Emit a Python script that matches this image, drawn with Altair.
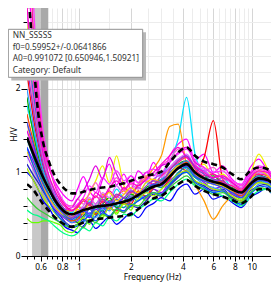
import altair as alt
import pandas as pd

# ---------------- data ----------------
FREQ = [0.50, 0.54, 0.58, 0.62, 0.67, 0.72, 0.78, 0.84, 0.91, 0.98,
        1.06, 1.15, 1.25, 1.37, 1.5, 1.65, 1.82, 2.0, 2.2, 2.45,
        2.7, 3.0, 3.35, 3.75, 4.2, 4.7, 5.3, 6.0, 6.8, 7.7,
        8.7, 9.8, 11.0, 12.4, 13.0]

MEAN = [1.42, 1.24, 1.08, 0.94, 0.80, 0.68, 0.58, 0.52, 0.50, 0.52,
        0.55, 0.57, 0.59, 0.60, 0.61, 0.63, 0.65, 0.68, 0.73, 0.79,
        0.83, 0.86, 0.95, 1.05, 1.10, 1.00, 0.93, 0.89, 0.86, 0.80,
        0.76, 0.86, 0.93, 0.91, 0.88]
UPPER = [3.40, 2.45, 1.72, 1.36, 1.13, 0.97, 0.86, 0.79, 0.75, 0.75,
         0.77, 0.79, 0.81, 0.82, 0.83, 0.85, 0.87, 0.90, 0.93, 0.96,
         0.98, 1.01, 1.12, 1.24, 1.30, 1.20, 1.13, 1.10, 1.06, 0.98,
         0.92, 1.02, 1.06, 1.04, 1.02]
LOWER = [0.86, 0.80, 0.71, 0.62, 0.54, 0.47, 0.41, 0.37, 0.35, 0.37,
         0.40, 0.42, 0.44, 0.45, 0.46, 0.47, 0.48, 0.50, 0.56, 0.63,
         0.69, 0.72, 0.79, 0.86, 0.91, 0.84, 0.78, 0.74, 0.71, 0.67,
         0.63, 0.70, 0.80, 0.80, 0.76]

W01 = [3.60, 2.50, 1.75, 1.30, 1.05, 0.90, 0.78, 0.70, 0.66, 0.80, 0.95, 0.78, 0.70, 0.92, 1.10, 0.85, 0.98, 0.80, 1.02, 0.94, 1.12, 0.96, 1.20, 1.34, 1.40, 1.15, 1.22, 1.00, 1.08, 0.92, 0.85, 1.06, 1.16, 1.02, 0.98]
W02 = [1.00, 0.92, 0.80, 0.66, 0.58, 0.46, 0.40, 0.34, 0.31, 0.28, 0.36, 0.42, 0.33, 0.40, 0.47, 0.38, 0.45, 0.52, 0.46, 0.58, 0.63, 0.70, 0.66, 0.80, 0.86, 0.74, 0.80, 0.68, 0.72, 0.64, 0.58, 0.70, 0.76, 0.82, 0.75]
W03 = [0.45, 0.40, 0.40, 0.42, 0.42, 0.40, 0.37, 0.30, 0.28, 0.34, 0.45, 0.38, 0.52, 0.46, 0.60, 0.50, 0.64, 0.55, 0.72, 0.66, 0.80, 0.74, 0.86, 0.95, 1.00, 0.90, 0.84, 0.92, 0.78, 0.74, 0.68, 0.82, 0.90, 0.84, 0.80]
W04 = [1.80, 1.52, 1.25, 1.05, 0.86, 0.70, 0.61, 0.55, 0.52, 0.60, 0.52, 0.66, 0.58, 0.72, 0.64, 0.80, 0.70, 0.78, 0.72, 0.88, 0.84, 0.98, 1.12, 1.40, 1.90, 1.22, 0.98, 0.88, 0.94, 0.80, 0.70, 0.85, 0.92, 0.86, 0.84]
W05 = [2.20, 1.70, 1.35, 1.08, 0.88, 0.74, 0.62, 0.54, 0.48, 0.46, 0.55, 0.62, 0.50, 0.66, 0.58, 0.54, 0.70, 0.62, 0.78, 0.70, 0.86, 0.82, 0.92, 1.06, 1.02, 1.00, 1.18, 1.62, 0.92, 0.80, 0.76, 0.92, 0.98, 0.90, 0.88]
W06 = [2.80, 2.00, 1.50, 1.15, 0.90, 0.74, 0.60, 0.52, 0.48, 0.58, 0.66, 0.74, 0.90, 1.08, 0.88, 1.20, 0.84, 0.74, 0.86, 0.96, 0.90, 0.88, 1.04, 1.14, 1.18, 1.02, 1.10, 0.94, 0.98, 0.86, 0.80, 0.98, 1.22, 1.04, 0.98]
W07 = [1.60, 1.30, 1.10, 0.95, 0.80, 0.70, 0.60, 0.55, 0.54, 0.60, 0.56, 0.68, 0.62, 0.74, 0.66, 0.72, 0.78, 0.70, 0.86, 0.94, 1.05, 1.20, 1.55, 1.58, 1.08, 0.86, 0.66, 0.44, 0.60, 0.70, 0.66, 0.80, 0.88, 0.86, 0.84]
W08 = [1.30, 1.15, 1.00, 0.86, 0.72, 0.60, 0.50, 0.44, 0.40, 0.42, 0.50, 0.46, 0.56, 0.50, 0.62, 0.58, 0.54, 0.66, 0.72, 0.68, 0.80, 0.76, 0.90, 0.98, 1.08, 0.96, 0.88, 0.80, 0.84, 0.74, 0.70, 0.82, 0.92, 0.88, 0.84]
W09 = [2.50, 1.90, 1.45, 1.12, 0.92, 0.78, 0.68, 0.62, 0.60, 0.68, 0.62, 0.76, 0.88, 0.72, 0.80, 0.94, 0.78, 0.86, 0.80, 0.96, 0.90, 1.08, 1.16, 1.28, 1.30, 1.10, 1.02, 1.06, 0.92, 0.90, 0.84, 0.96, 1.04, 1.00, 0.96]
W10 = [1.10, 0.98, 0.88, 0.78, 0.66, 0.56, 0.48, 0.40, 0.36, 0.38, 0.44, 0.40, 0.48, 0.54, 0.46, 0.56, 0.52, 0.60, 0.58, 0.66, 0.74, 0.72, 0.84, 0.94, 1.02, 0.90, 0.84, 0.78, 0.80, 0.70, 0.66, 0.78, 0.84, 0.86, 0.80]
W11 = [1.90, 1.50, 1.20, 1.00, 0.84, 0.70, 0.58, 0.50, 0.44, 0.40, 0.48, 0.56, 0.50, 0.62, 0.70, 0.58, 0.66, 0.74, 0.70, 0.82, 0.86, 0.92, 0.98, 1.10, 1.14, 1.00, 0.94, 0.96, 0.86, 0.82, 0.76, 0.90, 0.96, 0.94, 0.90]
W12 = [1.50, 1.30, 1.12, 0.96, 0.82, 0.70, 0.60, 0.56, 0.58, 0.68, 0.78, 0.92, 1.08, 0.92, 1.18, 0.98, 0.86, 0.96, 0.88, 1.00, 0.96, 1.08, 1.12, 1.24, 1.30, 1.12, 1.06, 0.98, 0.94, 0.88, 0.82, 0.98, 1.06, 1.02, 0.98]
W13 = [2.00, 1.60, 1.28, 1.02, 0.82, 0.66, 0.54, 0.46, 0.40, 0.44, 0.40, 0.52, 0.46, 0.58, 0.54, 0.64, 0.58, 0.70, 0.66, 0.78, 0.82, 0.92, 0.98, 1.10, 1.04, 0.94, 0.86, 0.82, 0.78, 0.68, 0.62, 0.74, 0.86, 0.88, 0.82]
W14 = [1.20, 1.05, 0.92, 0.80, 0.68, 0.58, 0.50, 0.46, 0.44, 0.52, 0.58, 0.50, 0.62, 0.68, 0.60, 0.72, 0.64, 0.76, 0.82, 0.78, 0.92, 0.98, 1.06, 1.16, 1.20, 1.06, 1.02, 0.92, 0.88, 0.84, 0.78, 0.92, 1.00, 0.96, 0.92]
W15 = [0.55, 0.50, 0.48, 0.45, 0.42, 0.36, 0.30, 0.26, 0.24, 0.27, 0.34, 0.30, 0.40, 0.36, 0.46, 0.42, 0.50, 0.48, 0.56, 0.62, 0.68, 0.66, 0.76, 0.86, 0.92, 0.84, 0.80, 0.76, 0.72, 0.66, 0.60, 0.70, 0.78, 0.80, 0.76]
W16 = [4.20, 2.80, 1.95, 1.40, 1.08, 0.86, 0.70, 0.60, 0.55, 0.58, 0.66, 0.60, 0.72, 0.64, 0.78, 0.70, 0.82, 0.76, 0.84, 0.90, 0.86, 0.96, 1.04, 1.12, 1.18, 1.04, 0.96, 0.98, 0.88, 0.84, 0.78, 0.92, 0.98, 0.96, 0.90]
W17 = [1.40, 1.20, 1.02, 0.88, 0.74, 0.62, 0.52, 0.46, 0.42, 0.46, 0.52, 0.48, 0.58, 0.54, 0.64, 0.60, 0.58, 0.68, 0.74, 0.76, 0.84, 0.82, 0.88, 1.00, 1.06, 0.94, 0.90, 0.86, 0.84, 0.76, 0.72, 0.84, 0.90, 0.92, 0.86]
W18 = [1.70, 1.40, 1.15, 0.96, 0.80, 0.66, 0.56, 0.48, 0.42, 0.44, 0.52, 0.58, 0.50, 0.62, 0.56, 0.68, 0.62, 0.66, 0.76, 0.72, 0.82, 0.90, 0.94, 1.06, 1.12, 1.00, 0.94, 0.88, 0.90, 0.78, 0.72, 0.86, 0.92, 0.94, 0.88]
W19 = [2.60, 2.00, 1.55, 1.20, 0.95, 0.76, 0.62, 0.54, 0.48, 0.50, 0.46, 0.56, 0.52, 0.62, 0.58, 0.68, 0.64, 0.72, 0.70, 0.80, 0.84, 0.90, 1.00, 1.08, 1.14, 0.98, 0.94, 0.90, 0.86, 0.80, 0.76, 0.88, 0.96, 0.92, 0.88]
W20 = [1.05, 0.92, 0.80, 0.70, 0.60, 0.52, 0.44, 0.38, 0.34, 0.38, 0.46, 0.42, 0.54, 0.48, 0.58, 0.52, 0.62, 0.58, 0.68, 0.76, 0.72, 0.80, 0.88, 0.98, 1.02, 0.90, 0.86, 0.80, 0.78, 0.72, 0.66, 0.80, 0.88, 0.86, 0.82]
W21 = [2.90, 2.20, 1.60, 1.20, 0.94, 0.74, 0.60, 0.52, 0.48, 0.54, 0.60, 0.70, 0.62, 0.76, 0.70, 0.84, 0.74, 0.80, 0.86, 0.90, 0.98, 0.94, 1.06, 1.16, 1.22, 1.08, 1.04, 0.94, 0.96, 0.86, 0.82, 0.96, 1.00, 0.98, 0.94]
W22 = [1.25, 1.10, 0.95, 0.82, 0.70, 0.60, 0.52, 0.48, 0.46, 0.56, 0.50, 0.64, 0.58, 0.70, 0.76, 0.66, 0.74, 0.82, 0.76, 0.88, 0.92, 0.88, 0.98, 1.08, 1.10, 0.98, 0.90, 0.86, 0.84, 0.78, 0.76, 0.90, 1.02, 0.96, 0.90]
W23 = [5.00, 3.20, 2.10, 1.50, 1.12, 0.88, 0.72, 0.62, 0.58, 0.62, 0.70, 0.84, 0.76, 0.94, 0.86, 1.02, 0.90, 0.96, 0.88, 1.00, 1.04, 1.00, 1.14, 1.22, 1.28, 1.14, 1.06, 1.00, 1.02, 0.90, 0.86, 1.00, 1.08, 1.04, 0.99]
W24 = [1.30, 1.10, 0.94, 0.80, 0.66, 0.54, 0.45, 0.38, 0.34, 0.36, 0.42, 0.48, 0.42, 0.52, 0.48, 0.56, 0.54, 0.60, 0.66, 0.72, 0.76, 0.74, 0.86, 0.96, 1.00, 0.88, 0.82, 0.76, 0.78, 0.68, 0.62, 0.74, 0.82, 0.84, 0.80]
W25 = [3.00, 2.20, 1.62, 1.22, 0.96, 0.80, 0.66, 0.58, 0.54, 0.60, 0.68, 0.62, 0.76, 0.70, 0.82, 0.90, 0.80, 0.88, 0.84, 0.92, 1.00, 1.10, 1.20, 1.30, 1.18, 1.08, 1.00, 0.94, 0.96, 0.88, 0.80, 0.94, 1.02, 1.00, 0.94]
W26 = [1.60, 1.36, 1.14, 0.96, 0.80, 0.66, 0.55, 0.48, 0.44, 0.48, 0.54, 0.50, 0.60, 0.56, 0.66, 0.62, 0.70, 0.66, 0.74, 0.78, 0.86, 0.84, 0.96, 1.04, 1.08, 0.96, 0.90, 0.86, 0.82, 0.76, 0.70, 0.82, 0.90, 0.90, 0.86]
W27 = [2.30, 1.80, 1.40, 1.10, 0.88, 0.72, 0.60, 0.52, 0.46, 0.50, 0.56, 0.64, 0.58, 0.68, 0.62, 0.74, 0.70, 0.78, 0.74, 0.84, 0.90, 0.88, 1.02, 1.14, 1.20, 1.06, 0.98, 0.92, 0.90, 0.80, 0.74, 0.88, 0.94, 0.92, 0.88]
W28 = [0.70, 0.62, 0.56, 0.52, 0.48, 0.44, 0.40, 0.36, 0.34, 0.38, 0.34, 0.44, 0.40, 0.50, 0.46, 0.56, 0.52, 0.62, 0.60, 0.70, 0.76, 0.72, 0.82, 0.90, 0.96, 0.86, 0.80, 0.74, 0.76, 0.68, 0.64, 0.76, 0.82, 0.80, 0.78]

WINDOWS = [W01, W02, W03, W04, W05, W06, W07, W08, W09, W10, W11, W12, W13, W14,
           W15, W16, W17, W18, W19, W20, W21, W22, W23, W24, W25, W26, W27, W28]
WINDOW_COLORS = ["#ff00ff", "#0000ff", "#66ff00", "#00e0ff", "#ff0000", "#f0f000",
                 "#ff9900", "#8800ff", "#ff55cc", "#2020c0", "#00b000", "#e000e0",
                 "#3399ff", "#aa44ff", "#00ff88", "#ff1493", "#00a0a0", "#ff4400",
                 "#4169e1", "#aaee00", "#dd66ff", "#ffcc00", "#ff33ff", "#0055ff",
                 "#ff00cc", "#3344ff", "#9933cc", "#33cc33"]

F0_BAND_LOW = [0.535, 0.5995]
F0_BAND_HIGH = [0.5995, 0.664]

X_TICKS = [0.5, 0.55, 0.6, 0.65, 0.7, 0.75, 0.8, 0.85, 0.9, 0.95, 1, 1.5, 2, 2.5, 3, 3.5,
           4, 4.5, 5, 5.5, 6, 6.5, 7, 7.5, 8, 8.5, 9, 9.5, 10]
Y_TICKS = [0, 0.2, 0.4, 0.6, 0.8, 1, 1.2, 1.4, 1.6, 1.8, 2, 2.2, 2.4, 2.6, 2.8]

INFO_LINES = ["NN_SSSSS", "f0=0.59952+/-0.0641866",
              "A0=0.991072 [0.650946,1.50921]", "Category: Default"]

# ---------------- tables ----------------
names = [f"w{i+1:02d}" for i in range(len(WINDOWS))]
rows = []
for n, vals in zip(names, WINDOWS):
    for f, v in zip(FREQ, vals):
        rows.append({"w": n, "f": f, "v": v})
win_df = pd.DataFrame(rows)
stat_df = pd.DataFrame(
    [{"s": "mean", "f": f, "v": v} for f, v in zip(FREQ, MEAN)]
    + [{"s": "upper", "f": f, "v": v} for f, v in zip(FREQ, UPPER)]
    + [{"s": "lower", "f": f, "v": v} for f, v in zip(FREQ, LOWER)]
)
band_lo = pd.DataFrame({"f": [F0_BAND_LOW[0]], "f2": [F0_BAND_LOW[1]], "v": [0], "v2": [3]})
band_hi = pd.DataFrame({"f": [F0_BAND_HIGH[0]], "f2": [F0_BAND_HIGH[1]], "v": [0], "v2": [3]})

FONT = "Noto Sans"
x_major = "indexof([0.6,0.8,1,2,4,6,8,10], datum.value) >= 0"
y_major = "indexof([0,1,2,3], datum.value) >= 0"

x_scale = alt.Scale(type="log", domain=[0.5, 12.94], nice=False)
y_scale = alt.Scale(domain=[0, 2.97], nice=False, zero=False)

x_axis = alt.Axis(
    values=X_TICKS, title="Frequency (Hz)",
    labelExpr=f"{x_major} ? format(datum.value, '~g') : ''",
    labelOverlap=False, labelFlush=False, labelFont=FONT, labelFontSize=8.3,
    labelColor="#000", labelPadding=1,
    tickColor="#000", tickSize={"condition": {"test": x_major, "value": 5}, "value": 3},
    domainColor="#000", domainWidth=1,
    grid=True, gridWidth=1,
    gridColor={"condition": {"test": x_major, "value": "#d6d6d6"}, "value": "#ececec"},
    titleFont=FONT, titleFontSize=8.3, titleFontWeight="normal", titleColor="#000",
    titleX=125, titleY=21, titleBaseline="middle", titleAlign="center",
)
y_axis = alt.Axis(
    values=Y_TICKS, title="H/V",
    labelExpr=f"{y_major} ? format(datum.value, '~g') : ''",
    labelOverlap=False, labelFlush=False, labelFont=FONT, labelFontSize=8.3,
    labelColor="#000", labelPadding=1,
    tickColor="#000", tickSize={"condition": {"test": y_major, "value": 6}, "value": 4},
    domain=False,
    grid=True, gridWidth=1,
    gridColor={"condition": {"test": y_major, "value": "#d6d6d6"}, "value": "#ececec"},
    titleFont=FONT, titleFontSize=8.3, titleFontWeight="normal", titleColor="#000",
    titleX=-13, titleY=126, titleAngle=270, titleBaseline="middle", titleAlign="center",
)

X = alt.X("f:Q", scale=x_scale, axis=x_axis)
Y = alt.Y("v:Q", scale=y_scale, axis=y_axis)

band1 = alt.Chart(band_lo).mark_rect(color="#c8c8c8", clip=True).encode(
    x=X, x2="f2:Q", y=Y, y2="v2:Q")
band2 = alt.Chart(band_hi).mark_rect(color="#a9a9a9", clip=True).encode(
    x=X, x2="f2:Q", y=Y, y2="v2:Q")

windows = alt.Chart(win_df).mark_line(strokeWidth=1.25, interpolate="monotone", clip=True).encode(
    x=X, y=Y,
    color=alt.Color("w:N", scale=alt.Scale(domain=names, range=WINDOW_COLORS), legend=None),
)

std_lines = alt.Chart(stat_df).transform_filter("datum.s != 'mean'").mark_line(
    color="#000", strokeWidth=2.6, strokeDash=[6, 4], interpolate="monotone", clip=True
).encode(x=X, y=Y, detail="s:N")
mean_line = alt.Chart(stat_df).transform_filter("datum.s == 'mean'").mark_line(
    color="#000", strokeWidth=2.6, interpolate="monotone", clip=True
).encode(x=X, y=Y)

one = pd.DataFrame({"a": [0]})
shadow = alt.Chart(one).mark_rect(color="#b8b8b8").encode(
    x=alt.value(-15.7), x2=alt.value(119), y=alt.value(24.3), y2=alt.value(72.5))
box = alt.Chart(one).mark_rect(fill="#ffffff", stroke="#909090", strokeWidth=1).encode(
    x=alt.value(-18.7), x2=alt.value(115.7), y=alt.value(21.3), y2=alt.value(69.3))

texts = []
for line, ypx in zip(INFO_LINES, [27.7, 39.7, 51.0, 62.7]):
    texts.append(
        alt.Chart(one).mark_text(align="left", baseline="middle", font=FONT,
                                 fontSize=8.3, color="#333333").encode(
            x=alt.value(-14.3), y=alt.value(ypx), text=alt.value(line))
    )

chart = alt.layer(band1, band2, windows, std_lines, mean_line, shadow, box, *texts).properties(
    width=244, height=248,
    autosize=alt.AutoSizeParams(type="none"),
    padding={"left": 19, "top": 0, "right": 0, "bottom": 27},
    background="#ffffff",
).configure_view(strokeWidth=0)

chart.save("out.html", embed_options={"renderer": "svg", "actions": False})
